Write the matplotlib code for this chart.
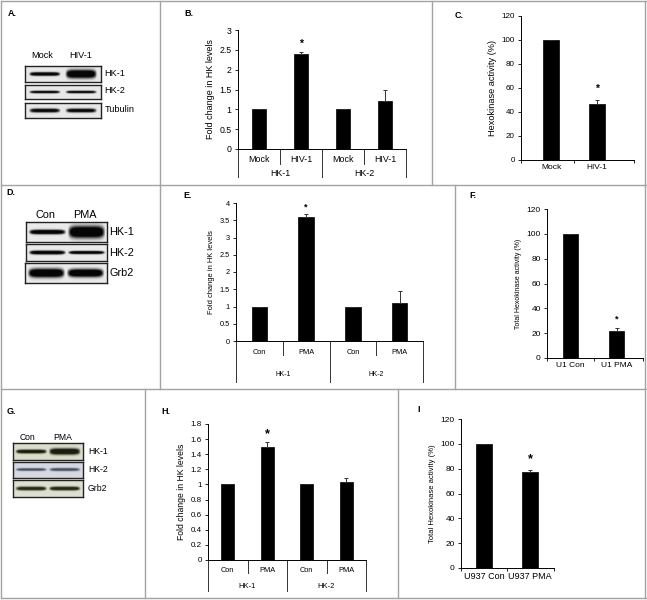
import numpy as np
import matplotlib
matplotlib.use("Agg")
import matplotlib.pyplot as plt
from matplotlib.lines import Line2D
from matplotlib.transforms import blended_transform_factory

plt.rcParams['font.family'] = ['Liberation Sans', 'DejaVu Sans']

# ---------------- data ----------------
# Panel B
b_cats = ["Mock", "HIV-1", "Mock", "HIV-1"]
b_groups = ["HK-1", "HK-2"]
b_vals = [1.0, 2.4, 1.0, 1.2]
b_errs = [0.01, 0.05, 0.01, 0.3]
b_sig = [False, True, False, False]
# Panel C
c_cats = ["Mock", "HIV-1"]
c_vals = [100, 47]
c_errs = [0, 3]
c_sig = [False, True]
# Panel E
e_cats = ["Con", "PMA", "Con", "PMA"]
e_groups = ["HK-1", "HK-2"]
e_vals = [1.0, 3.6, 1.0, 1.1]
e_errs = [0.0, 0.07, 0.0, 0.35]
e_sig = [False, True, False, False]
# Panel F
f_cats = ["U1 Con", "U1 PMA"]
f_vals = [100, 22]
f_errs = [0, 2]
f_sig = [False, True]
# Panel H
h_cats = ["Con", "PMA", "Con", "PMA"]
h_groups = ["HK-1", "HK-2"]
h_vals = [1.0, 1.5, 1.0, 1.03]
h_errs = [0.0, 0.06, 0.0, 0.05]
h_sig = [False, True, False, False]
# Panel I
i_cats = ["U937 Con", "U937 PMA"]
i_vals = [100, 77]
i_errs = [0, 2]
i_sig = [False, True]

# Blots (lane labels, row labels, relative band intensity / thickness)
a_lanes = ["Mock", "HIV-1"]
a_rows = ["HK-1", "HK-2", "Tubulin"]
a_int = [[1.0, 1.0], [0.9, 0.9], [0.85, 0.85]]
a_thk = [[0.11, 0.26], [0.09, 0.09], [0.13, 0.13]]
d_lanes = ["Con", "PMA"]
d_rows = ["HK-1", "HK-2", "Grb2"]
d_int = [[1.0, 1.0], [1.0, 1.0], [1.0, 1.0]]
d_thk = [[0.11, 0.3], [0.11, 0.09], [0.22, 0.2]]
g_lanes = ["Con", "PMA"]
g_rows = ["HK-1", "HK-2", "Grb2"]
g_int = [[0.95, 1.0], [0.8, 0.8], [0.9, 0.95]]
g_thk = [[0.11, 0.18], [0.08, 0.09], [0.11, 0.11]]

# ---------------- figure ----------------
W, H = 647, 600
fig = plt.figure(figsize=(W / 100, H / 100), dpi=100)
fig.patch.set_facecolor("white")


def px_axes(l, t, r, b):
    return fig.add_axes([l / W, 1 - b / H, (r - l) / W, (b - t) / H])


def fline(x0, y0, x1, y1, color="#a3a3a3", lw=1.0):
    fig.add_artist(Line2D([x0 / W, x1 / W], [1 - y0 / H, 1 - y1 / H],
                          color=color, lw=lw))


def ftext(x, y, s, size, weight="normal", ha="left", va="center", **kw):
    fig.text(x / W, 1 - y / H, s, fontsize=size, fontweight=weight,
             ha=ha, va=va, **kw)


# panel borders
fline(1, 1, 646, 1)
fline(1, 598, 646, 598)
fline(1, 1, 1, 598)
fline(645, 1, 645, 598)
fline(1, 185, 646, 185)
fline(1, 389, 646, 389)
fline(160, 1, 160, 185)
fline(432, 1, 432, 185)
fline(160, 185, 160, 389)
fline(455, 185, 455, 389)
fline(145, 389, 145, 598)
fline(398, 389, 398, 598)

# panel labels
for lab, x, y in [("A.", 8, 13), ("B.", 184, 13), ("C.", 455, 16),
                  ("D.", 6, 192), ("E.", 183, 196), ("F.", 469, 196),
                  ("G.", 7, 411), ("H.", 161, 411), ("I", 417, 410)]:
    ftext(x, y, lab, 6.5, weight="bold")


# ---------------- blots ----------------
def blot(box, ints, thks, bg, band, lanec=(0.26, 0.74), hw=0.21):
    l, t, r, b = box
    ax = px_axes(l, t, r, b)
    nx, ny = 240, 60
    X, Y = np.meshgrid(np.linspace(0, 1, nx), np.linspace(0, 1, ny))
    dens = np.zeros_like(X)
    for c, it, th in zip(lanec, ints, thks):
        u = np.abs((X - c) / hw)
        hx = np.clip(1 - u ** 6, 0, 1)
        thx = th * (0.55 + 0.45 * np.sqrt(hx))
        vy = np.exp(-np.abs((Y - 0.5) / np.maximum(thx, 1e-3)) ** 2.5)
        dens += it * hx * vy
    dens = np.clip(dens * 1.5, 0, 1)[..., None]
    img = np.array(bg)[None, None, :] * (1 - dens) + np.array(band)[None, None, :] * dens
    ax.imshow(img, aspect="auto", extent=(0, 1, 0, 1), interpolation="bilinear")
    ax.set_xticks([])
    ax.set_yticks([])
    for s in ax.spines.values():
        s.set_linewidth(1.0)
        s.set_color("#222222")
    return ax


# A
a_boxes = [(25, 66, 101, 82), (25, 85, 101, 99), (25, 103, 101, 118)]
for bx, it, th in zip(a_boxes, a_int, a_thk):
    blot(bx, it, th, (0.91, 0.91, 0.91), (0.03, 0.03, 0.03))
ftext(42.5, 55, a_lanes[0], 6.6, ha="center")
ftext(80.5, 55, a_lanes[1], 6.6, ha="center")
for (l, t, r, b), lab in zip(a_boxes, a_rows):
    ftext(104.5, (t + b) / 2 - 1, lab, 6.6)

# D
d_boxes = [(26, 222, 107, 242), (26, 244, 107, 261), (25, 263, 107, 283)]
for bx, it, th in zip(d_boxes, d_int, d_thk):
    blot(bx, it, th, (0.92, 0.92, 0.92), (0.02, 0.02, 0.02), hw=0.23)
ftext(45.5, 215, d_lanes[0], 7.8, ha="center")
ftext(85, 215, d_lanes[1], 7.8, ha="center")
for (l, t, r, b), lab in zip(d_boxes, d_rows):
    ftext(109, (t + b) / 2, lab, 7.8)

# G
g_boxes = [(13, 443, 83, 460), (13, 462, 83, 478), (13, 480, 83, 497)]
g_bgs = [(0.86, 0.87, 0.80), (0.84, 0.85, 0.88), (0.87, 0.88, 0.82)]
g_bands = [(0.10, 0.12, 0.06), (0.28, 0.31, 0.40), (0.15, 0.17, 0.10)]
for bx, it, th, bg, bd in zip(g_boxes, g_int, g_thk, g_bgs, g_bands):
    blot(bx, it, th, bg, bd, hw=0.23)
ftext(28, 437, g_lanes[0], 6.2, ha="center")
ftext(63, 437, g_lanes[1], 6.2, ha="center")
for (l, t, r, b), lab in zip(g_boxes, g_rows):
    ftext(88, (t + b) / 2, lab, 6.2)


# ---------------- bar charts ----------------
def style_y(ax, ylim, step, fmt, tsize):
    ax.set_ylim(*ylim)
    ticks = np.arange(ylim[0], ylim[1] + step / 2, step)
    ax.set_yticks(ticks)
    ax.set_yticklabels([fmt(v) for v in ticks], fontsize=tsize)
    ax.tick_params(axis="y", direction="out", length=2.5, width=0.6, pad=2)
    for s in ["top", "right"]:
        ax.spines[s].set_visible(False)
    ax.spines["left"].set_linewidth(0.7)
    ax.spines["bottom"].set_linewidth(0.7)
    ax.patch.set_alpha(0)


def fmt_num(v):
    s = ("%.1f" % v).rstrip("0").rstrip(".")
    return s if s else "0"


def bars(ax, vals, errs, sig, width, star_pad, star_size):
    x = np.arange(len(vals))
    ax.bar(x, vals, width=width, color="black", edgecolor="black", lw=0.5, zorder=2)
    lower = np.zeros(len(errs))
    ax.errorbar(x, vals, yerr=[lower, errs], fmt="none", ecolor="#333333",
                elinewidth=0.7, capsize=1.5, capthick=0.7, zorder=3)
    for xi, v, e, s in zip(x, vals, errs, sig):
        if s:
            ax.text(xi, v + e + star_pad, "*", ha="center", va="center",
                    fontsize=star_size, fontweight="bold")


def grouped_axis(ax, cats, groups, cat_off, grp_off, short_len, long_len, csize, gsize):
    n = len(cats)
    ax.set_xlim(-0.5, n - 0.5)
    ax.set_xticks([])
    hpx = ax.get_position().height * H
    tr = blended_transform_factory(ax.transData, ax.transAxes)
    for i, c in enumerate(cats):
        ax.text(i, -cat_off / hpx, c, transform=tr, ha="center", va="center",
                fontsize=csize)
    per = n // len(groups)
    for g, name in enumerate(groups):
        ax.text(g * per + (per - 1) / 2, -grp_off / hpx, name, transform=tr,
                ha="center", va="center", fontsize=gsize)
    for k in range(n + 1):
        xb = k - 0.5
        ln = long_len if k % per == 0 else short_len
        ax.add_line(Line2D([xb, xb], [0, -ln / hpx], transform=tr, color="#333333",
                           lw=0.7, clip_on=False))


def simple_axis(ax, cats, xlim, csize):
    ax.set_xlim(*xlim)
    ax.set_xticks(range(len(cats)))
    ax.set_xticklabels(cats, fontsize=csize)
    ax.tick_params(axis="x", length=0, pad=3)
    ax.set_xticks([xlim[0], 0.5, xlim[1]], minor=True)
    ax.tick_params(axis="x", which="minor", direction="out", length=2.5, width=0.6)


# B
axB = px_axes(238, 30, 406, 149)
bars(axB, b_vals, b_errs, b_sig, 0.31, 0.2, 7.5)
style_y(axB, (0, 3), 0.5, fmt_num, 6.3)
grouped_axis(axB, b_cats, b_groups, 10, 25, 15, 28, 6.4, 6.4)
axB.set_ylabel("Fold change in HK levels", fontsize=6.5, labelpad=3)

# C
axC = px_axes(521, 16, 634, 160)
bars(axC, c_vals, c_errs, c_sig, 0.35, 9, 7.5)
style_y(axC, (0, 120), 20, lambda v: "%d" % v, 5.8)
simple_axis(axC, c_cats, (-0.66, 1.82), 6.0)
axC.set_ylabel("Hexokinase activity (%)", fontsize=6.6, labelpad=3)

# E
axE = px_axes(236, 203, 423, 341)
bars(axE, e_vals, e_errs, e_sig, 0.33, 0.22, 6.5)
style_y(axE, (0, 4), 0.5, fmt_num, 5.3)
grouped_axis(axE, e_cats, e_groups, 11, 33, 14, 41, 5.3, 4.9)
axE.set_ylabel("Fold change in HK levels", fontsize=5.4, labelpad=3)

# F
axF = px_axes(547, 209, 643, 358)
bars(axF, f_vals, f_errs, f_sig, 0.32, 7, 6.5)
style_y(axF, (0, 120), 20, lambda v: "%d" % v, 6.0)
simple_axis(axF, f_cats, (-0.5, 1.56), 6.0)
axF.set_ylabel("Total Hexokinase activity (%)", fontsize=5.0, labelpad=3)

# H
axH = px_axes(208, 424, 366, 560)
bars(axH, h_vals, h_errs, h_sig, 0.33, 0.1, 9)
style_y(axH, (0, 1.8), 0.2, fmt_num, 5.8)
grouped_axis(axH, h_cats, h_groups, 11, 26, 13, 31, 5.3, 5.5)
axH.set_ylabel("Fold change in HK levels", fontsize=6.2, labelpad=3)

# I
axI = px_axes(461, 419, 554, 568)
bars(axI, i_vals, i_errs, i_sig, 0.33, 9, 9)
style_y(axI, (0, 120), 20, lambda v: "%d" % v, 6.0)
simple_axis(axI, i_cats, (-0.5, 1.52), 6.5)
axI.set_ylabel("Total Hexokinase activity (%)", fontsize=5.5, labelpad=3)

fig.savefig("out.png", dpi=100)
